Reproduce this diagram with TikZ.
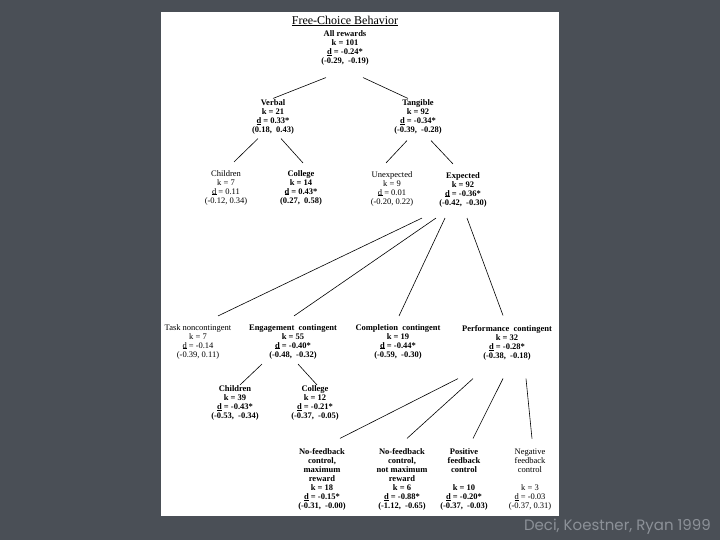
\documentclass[tikz,border=0pt]{standalone}
\usepackage{fontspec}
\setmainfont{Liberation Serif}
\newfontfamily\capfont{Poppins}
\usepackage{xcolor}
\definecolor{mslate}{HTML}{4A4F56}
\definecolor{mcapgray}{HTML}{8C9198}
\tikzset{
  sigbox/.style={align=center, inner sep=0pt, font=\fontsize{8.5}{9}\selectfont\bfseries},
  nsbox/.style={align=center, inner sep=0pt, font=\fontsize{8.5}{9}\selectfont},
  branch/.style={black, line width=0.6pt},
}
\newcommand{\dval}{\makebox[0pt][l]{\rule[-0.8pt]{0.55em}{0.45pt}}d}

\begin{document}
\begin{tikzpicture}[x=1pt, y=-1pt]
  %% ── slide and page ──
  \useasboundingbox (0,0) rectangle (720,540);
  \fill[mslate] (0,0) rectangle (720,540);
  \fill[white] (161,12) rectangle (559,516);

  %% ── title and root ──
  \node[nsbox, font=\fontsize{12}{14}\selectfont] (title) at (345,21) {\underline{Free-Choice Behavior}};
  \node[sigbox] (all) at (345,48) {All rewards\\k = 101\\\dval\ = -0.24*\\(-0.29,\ \ -0.19)};

  %% ── reward type ──
  \node[sigbox] (verbal)   at (273,117) {Verbal\\k = 21\\\dval\ = 0.33*\\(0.18,\ \ 0.43)};
  \node[sigbox] (tangible) at (418,117) {Tangible\\k = 92\\\dval\ = -0.34*\\(-0.39,\ \ -0.28)};

  %% ── age and expectancy ──
  \node[nsbox]  (kids)     at (226,187.5) {Children\\k = 7\\\dval\ = 0.11\\(-0.12, 0.34)};
  \node[sigbox] (college)  at (301,187.5) {College\\k = 14\\\dval\ = 0.43*\\(0.27,\ \ 0.58)};
  \node[nsbox]  (unexp)    at (392,188.5) {Unexpected\\k = 9\\\dval\ = 0.01\\(-0.20, 0.22)};
  \node[sigbox] (expected) at (463,189.5) {Expected\\k = 92\\\dval\ = -0.36*\\(-0.42,\ \ -0.30)};

  %% ── contingency ──
  \node[nsbox]  (tasknc)  at (198,341.5) {Task noncontingent\\k = 7\\\dval\ = -0.14\\(-0.39, 0.11)};
  \node[sigbox] (engage)  at (293,341.5) {Engagement\ \ contingent\\k = 55\\\dval\ = -0.40*\\(-0.48,\ \ -0.32)};
  \node[sigbox] (complet) at (398,341.5) {Completion\ \ contingent\\k = 19\\\dval\ = -0.44*\\(-0.59,\ \ -0.30)};
  \node[sigbox] (perform) at (507,343) {Performance\ \ contingent\\k = 32\\\dval\ = -0.28*\\(-0.38,\ \ -0.18)};

  %% ── engagement by age ──
  \node[sigbox] (kidsb)    at (235,403) {Children\\k = 39\\\dval\ = -0.43*\\(-0.53,\ \ -0.34)};
  \node[sigbox] (collegeb) at (315,403) {College\\k = 12\\\dval\ = -0.21*\\(-0.37,\ \ -0.05)};

  %% ── performance by feedback ──
  \node[sigbox] (nofbmax) at (322,479.5) {No-feedback\\control,\\maximum\\reward\\k = 18\\\dval\ = -0.15*\\(-0.31,\ \ -0.00)};
  \node[sigbox] (nofbnot) at (402,479.5) {No-feedback\\control,\\not maximum\\reward\\k = 6\\\dval\ = -0.88*\\(-1.12,\ \ -0.65)};
  \node[sigbox] (posfb)   at (464,479.5) {Positive\\feedback\\control\\[9pt]k = 10\\\dval\ = -0.20*\\(-0.37,\ \ -0.03)};
  \node[nsbox]  (negfb)   at (530,479.5) {Negative\\feedback\\control\\[9pt]k = 3\\\dval\ = -0.03\\(-0.37, 0.31)};

  %% ── branches ──
  \draw[branch] ([xshift=-19pt,yshift=-12pt]all.south) -- ([yshift=1pt]verbal.north);
  \draw[branch] ([xshift=18pt,yshift=-12pt]all.south) -- ([xshift=-10pt,yshift=1pt]tangible.north);
  \draw[branch] ([xshift=-15pt,yshift=-4pt]verbal.south) -- ([xshift=8pt,yshift=8pt]kids.north);
  \draw[branch] ([xshift=8pt,yshift=-4pt]verbal.south) -- ([xshift=2pt,yshift=7pt]college.north);
  \draw[branch] ([xshift=-11pt,yshift=-6pt]tangible.south) -- ([xshift=-6pt,yshift=8pt]unexp.north);
  \draw[branch] ([xshift=13pt,yshift=-6pt]tangible.south) -- ([xshift=-10pt,yshift=8pt]expected.north);
  \draw[branch] ([xshift=-41pt,yshift=-11pt]expected.south) -- ([xshift=20pt,yshift=8pt]tasknc.north);
  \draw[branch] ([xshift=-27pt,yshift=-11pt]expected.south) -- ([xshift=1pt,yshift=8pt]engage.north);
  \draw[branch] ([xshift=-18pt,yshift=-11pt]expected.south) -- ([xshift=1pt,yshift=8pt]complet.north);
  \draw[branch] ([xshift=4pt,yshift=-11pt]expected.south) -- ([xshift=-4pt,yshift=10pt]perform.north);
  \draw[branch] ([xshift=-31pt,yshift=-5pt]engage.south) -- ([xshift=5pt,yshift=0.5pt]kidsb.north);
  \draw[branch] ([xshift=5pt,yshift=-5pt]engage.south) -- ([xshift=2pt,yshift=0.5pt]collegeb.north);
  \draw[branch] ([xshift=-49pt,yshift=-18pt]perform.south) -- ([xshift=18pt,yshift=10pt]nofbmax.north);
  \draw[branch] ([xshift=-34pt,yshift=-18pt]perform.south) -- ([xshift=5pt,yshift=10pt]nofbnot.north);
  \draw[branch] ([xshift=-4pt,yshift=-18pt]perform.south) -- ([xshift=9pt,yshift=10pt]posfb.north);
  \draw[branch] ([xshift=19pt,yshift=-18pt]perform.south) -- ([xshift=2pt,yshift=10pt]negfb.north);

  %% ── citation ──
  \node[font=\capfont\fontsize{15}{17}\selectfont, text=mcapgray, anchor=east, inner sep=0pt] (cite) at (711,527) {Deci, Koestner, Ryan 1999};
\end{tikzpicture}
\end{document}
